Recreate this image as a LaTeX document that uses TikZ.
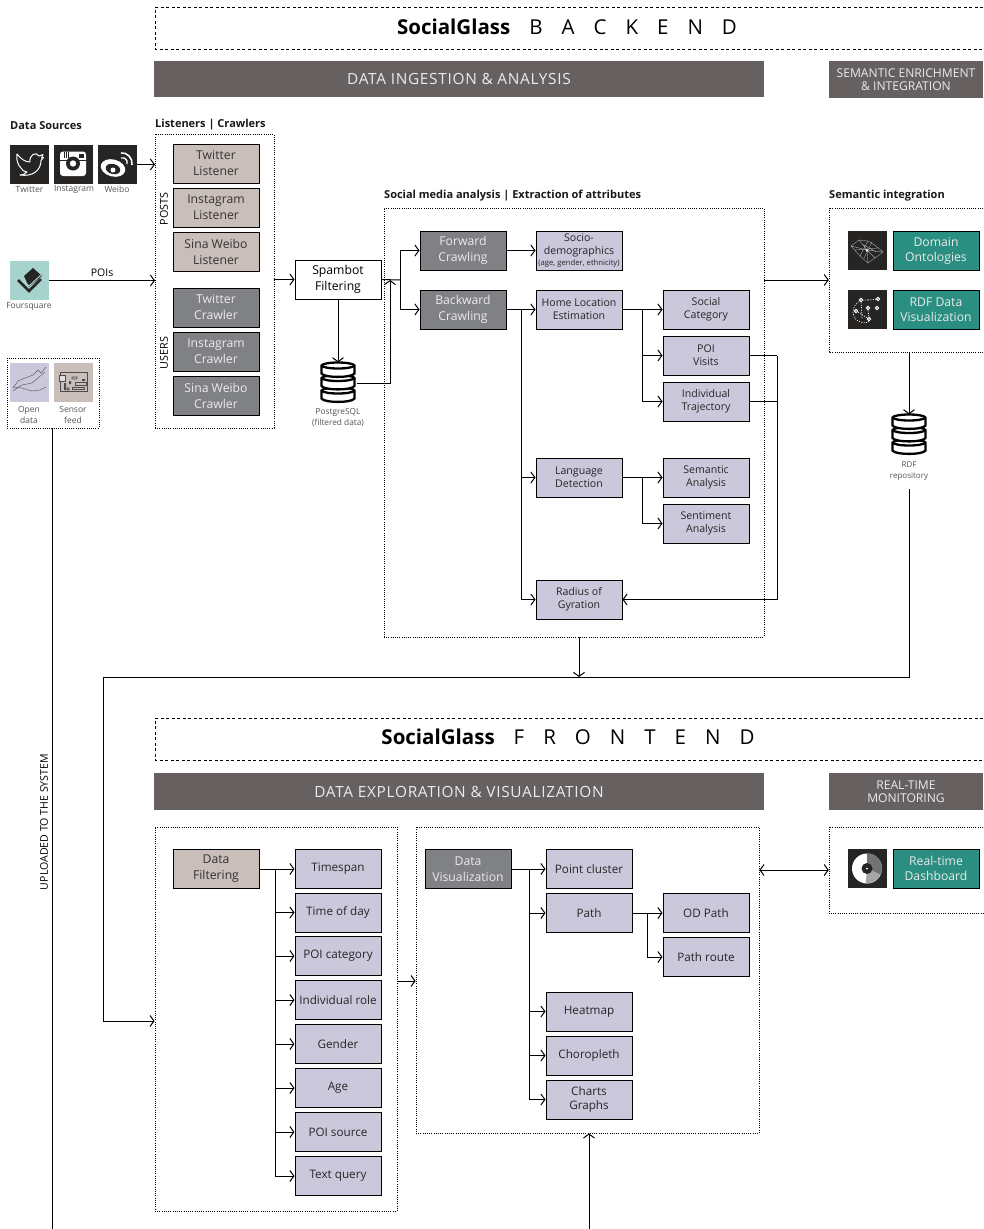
\documentclass[tikz,border=0pt]{standalone}
\usepackage{fontspec}
\setmainfont{Open Sans}
\usetikzlibrary{arrows.meta,calc,shapes.geometric}
\definecolor{brownbox}{HTML}{C9BEBA}
\definecolor{darkbox}{HTML}{808184}
\definecolor{lavbox}{HTML}{CBC8DC}
\definecolor{tealbox}{HTML}{2A8F80}
\definecolor{headbox}{HTML}{666060}
\definecolor{iconbg}{HTML}{272523}
\definecolor{labgray}{HTML}{555555}
\definecolor{fsqbg}{HTML}{A7D3CF}
\tikzset{
  x=1pt,y=-1pt,
  conn/.style={line width=1pt,draw=black,-{Straight Barb[length=4pt,width=11pt,line width=1pt]}},
  plainconn/.style={line width=1pt,draw=black},
  boxbase/.style={draw=black,line width=1pt,minimum width=86pt,minimum height=39pt,inner sep=0pt,align=center},
  brownnode/.style={boxbase,fill=brownbox,font=\fontsize{12.2}{16}\selectfont,text=black!80},
  darknode/.style={boxbase,fill=darkbox,font=\fontsize{12.2}{16}\selectfont,text=white!92!black},
  lavnode/.style={boxbase,fill=lavbox,font=\fontsize{10.6}{13}\selectfont,text=black!85},
  lavbig/.style={lavnode,font=\fontsize{11.7}{14}\selectfont},
  tealnode/.style={boxbase,fill=tealbox,font=\fontsize{12.2}{15}\selectfont,text=white!92!black},
  whitenode/.style={boxbase,fill=white,font=\fontsize{12.2}{16}\selectfont},
  headnode/.style={fill=headbox,inner sep=0pt,align=center,text=white!92!black,font=\fontsize{15.4}{17}\selectfont\addfontfeature{LetterSpace=4.5}},
  headsmall/.style={headnode,font=\fontsize{12.1}{13.5}\selectfont},
  dashbox/.style={draw=black,line width=.8pt,dash pattern=on 3pt off 2.5pt,inner sep=0pt},
  dotbox/.style={draw=black,line width=.8pt,dash pattern=on 1pt off 1.2pt,inner sep=0pt},
  dotline/.style={draw=black,line width=.8pt,dash pattern=on 1pt off 1.2pt},
  iconnode/.style={fill=iconbg,minimum width=39pt,minimum height=39pt,inner sep=0pt},
  caplabel/.style={font=\fontsize{8.5}{11}\selectfont,text=labgray,align=center,inner sep=0pt},
  sectlabel/.style={font=\fontsize{11}{12}\selectfont\bfseries,anchor=west,inner sep=0pt,text=black!90},
  titlelabel/.style={font=\fontsize{20.5}{22}\selectfont,inner sep=0pt},
  sidelabel/.style={font=\fontsize{10.8}{12}\selectfont,rotate=90,inner sep=0pt},
  dbnode/.style={minimum width=38pt,minimum height=39pt,inner sep=0pt},
  chartline/.style={draw=black!65,line width=.45pt},
  boardline/.style={draw=black!70,line width=.7pt},
}
\newcommand\dbdraw[1]{%
  \begin{scope}[shift={(#1.center)}]
    \foreach \yy in {12.5,0,-12.5}{
      \path[draw=black,fill=white,line width=2.3pt]
        (-16.5,\yy-4) -- (-16.5,\yy+4) .. controls (-14,\yy+8.5) and (14,\yy+8.5) .. (16.5,\yy+4)
        -- (16.5,\yy-4) .. controls (14,\yy-8) and (-14,\yy-8) .. (-16.5,\yy-4) -- cycle;
      \path[draw=black,line width=2.3pt]
        (-16.5,\yy-4) .. controls (-14,\yy) and (14,\yy) .. (16.5,\yy-4);
    }
  \end{scope}}
\begin{document}
\begin{tikzpicture}
\useasboundingbox (0,0) rectangle (983,1229);
\fill[white] (0,0) rectangle (983,1229);

% ---- backend headers
\node[minimum width=828pt,minimum height=42pt,inner sep=0pt] (titleA) at (569,28) {};
\draw[dashbox] (983,7) -- (155,7) -- (155,49) -- (983,49);
\node[titlelabel] (titleAtxt) at (567,27) {\textbf{SocialGlass}\hspace{19pt}B\hspace{19pt}A\hspace{19pt}C\hspace{19pt}K\hspace{19pt}E\hspace{19pt}N\hspace{19pt}D};
\node[headnode,minimum width=610pt,minimum height=36pt] (ingest) at (459,79) {DATA INGESTION \& ANALYSIS};
\node[headsmall,minimum width=154pt,minimum height=37pt] (semhead) at (906,79.5) {SEMANTIC ENRICHMENT\\\& INTEGRATION};

% ---- data sources
\node[sectlabel] (dstitle) at (10,125.5) {Data Sources};
\node[iconnode] (tw) at (29.5,164.5) {};
\node[iconnode] (ig) at (73.5,164.5) {};
\node[iconnode] (wb) at (117.5,164.5) {};
\node[caplabel] (twl) at (29.5,189) {Twitter};
\node[caplabel] (igl) at (74,189) {Instagram};
\node[caplabel] (wbl) at (117,189) {Weibo};
% twitter bird
\draw[white,line width=1pt,line join=round]
  (17,154) .. controls (21,159) and (25,162) .. (30,162)
  .. controls (29,155) and (36,151) .. (39,156) -- (43,154.5) -- (41.5,158) -- (43.5,157.5) -- (41,160.5)
  .. controls (41,170) and (33,177) .. (20,175)
  .. controls (23,175) and (25,174) .. (27,172) .. controls (24,172) and (22,170) .. (21,168)
  .. controls (18,165) and (16,160) .. (17,154) -- cycle;
% instagram
\fill[white,rounded corners=3pt] (60,151.5) rectangle (86,176);
\fill[iconbg] (60,159.5) rectangle (86,161);
\draw[iconbg,line width=.9pt] (64,151.5) -- (64,158) (66,151.5) -- (66,158) (68,151.5) -- (68,158);
\fill[iconbg] (79,154) rectangle (84,158);
\fill[iconbg] (73,163.5) circle[radius=7];
\fill[white] (73,163.5) circle[radius=3.2];
% weibo
\fill[white,rotate around={-15:(113,168)}] (113,168) ellipse[x radius=12.5,y radius=8.5];
\fill[iconbg,rotate around={-15:(113,169)}] (113,169) ellipse[x radius=7.5,y radius=5];
\fill[white] (113,170) circle[radius=2.5];
\draw[white,line width=1.6pt] (121,153) .. controls (127,152) and (133,158) .. (132,165);
\draw[white,line width=1.4pt] (121,158) .. controls (125,157) and (128,160) .. (127,164);
% foursquare
\node[minimum width=39pt,minimum height=39pt,inner sep=0pt,fill=fsqbg] (fs) at (29.5,280.5) {};
\fill[iconbg] (24,276) -- (33,268) -- (42,276) -- (29,287) -- cycle;
\draw[iconbg,line width=2.7pt] (18,280) -- (29,291) -- (41,279);
\draw[fsqbg,line width=1pt] (20,278) -- (29,286) -- (41,275);
\node[caplabel] (fsl) at (29,306) {Foursquare};

% open data / sensor
\node[minimum width=92pt,minimum height=70pt,inner sep=0pt] (odbox) at (53,393) {};
\draw[dotbox] (7,358) rectangle (99,428);
\node[minimum width=39pt,minimum height=39pt,inner sep=0pt,fill=lavbox] (od) at (29.5,382.5) {};
\node[minimum width=39pt,minimum height=39pt,inner sep=0pt,fill=brownbox] (sf) at (73.5,382.5) {};
\draw[chartline] (13,388) -- (18,381) -- (25,378) -- (33,375) -- (38,370) -- (41,373) -- (46,367);
\draw[chartline] (13,391) -- (22,385) -- (32,383) -- (38,378) -- (45,372);
\draw[chartline] (13,387) -- (22,388) -- (32,391) -- (40,390) -- (46,387);
\draw[boardline] (60,372) -- (87,372) -- (87,391) -- (60,391) -- cycle;
\fill[white!50!brownbox] (59,375) rectangle (65,381);
\draw[boardline] (59,375) rectangle (65,381);
\draw[boardline] (75,382) rectangle (86,385) (72,387) rectangle (84,389);
\fill[black!70] (64,383) rectangle (66,390) (69,381) rectangle (71,384) (82,379) rectangle (85,381);
\draw[boardline] (68,389) circle[radius=1.4] (72,377) rectangle (77,379);
\node[caplabel] (odl) at (29,415) {Open\\data};
\node[caplabel] (sfl) at (73,415) {Sensor\\feed};
\node[sidelabel,font=\fontsize{10.6}{12}\selectfont] (uploaded) at (44,822) {UPLOADED TO THE SYSTEM};
\coordinate (uplend) at (52,1229);
\draw[plainconn] (52,428) -- (uplend);

% ---- listeners
\node[sectlabel] (lctitle) at (155,125) {Listeners | Crawlers};
\node[minimum width=119pt,minimum height=294pt,inner sep=0pt,dotbox] (lc) at (214.5,281) {};
\node[brownnode] (l1) at (216,163.5) {Twitter\\Listener};
\node[brownnode] (l2) at (216,207.5) {Instagram\\Listener};
\node[brownnode] (l3) at (216,251.5) {Sina Weibo\\Listener};
\node[darknode] (c1) at (216,307.5) {Twitter\\Crawler};
\node[darknode] (c2) at (216,351.5) {Instagram\\Crawler};
\node[darknode] (c3) at (216,395.5) {Sina Weibo\\Crawler};
\node[sidelabel] (posts) at (164,209) {POSTS};
\node[sidelabel] (users) at (164,353) {USERS};
\draw[conn] (wb.east) -- (155,164.5);
\draw[conn] (fs.east) -- node[above=3pt,inner sep=0pt,font=\fontsize{10.5}{11}\selectfont] {POIs} (155,280.5);
\node[whitenode] (spam) at (338,279.5) {Spambot\\Filtering};
\draw[conn] (lc.east |- spam.west) -- (spam.west);
\node[dbnode] (pg) at (338,382) {};
\dbdraw{pg}
\draw[conn] (spam.south) -- (pg.north);
\node[caplabel,font=\fontsize{8.3}{11}\selectfont] (pgl) at (338,417.5) {PostgreSQL\\(filtered data)};

% ---- analysis
\node[sectlabel] (antitle) at (384,196) {Social media analysis | Extraction of attributes};
\node[minimum width=380pt,minimum height=429pt,inner sep=0pt,dotbox] (an) at (574,422.5) {};
\node[darknode] (fw) at (463,250.5) {Forward\\Crawling};
\node[darknode] (bw) at (463,309.5) {Backward\\Crawling};
\node[lavnode,align=center,font=\fontsize{10.6}{13}\selectfont] (socio) at (579,250.5) {Socio-\\demographics\\[-1.5pt]{\fontsize{7.7}{7}\selectfont (age, gender, ethnicity)}};
\node[lavnode] (home) at (579,309.5) {Home Location\\Estimation};
\node[lavnode] (soc) at (706,309.5) {Social\\Category};
\node[lavnode] (poi) at (706,355.5) {POI\\Visits};
\node[lavnode] (ind) at (706,401.5) {Individual\\Trajectory};
\node[lavnode] (lang) at (579,477.5) {Language\\Detection};
\node[lavnode] (sem) at (706,477.5) {Semantic\\Analysis};
\node[lavnode] (sent) at (706,523.5) {Sentiment\\Analysis};
\node[lavnode] (rad) at (579,599.5) {Radius of\\Gyration};

\coordinate (split) at (400,280);
\coordinate (dbup) at (390,383);
\draw[plainconn] (spam.east) -- (split);
\draw[conn] (split) |- (fw.west);
\draw[conn] (split) |- (bw.west);
\draw[conn] (pg.east |- dbup) -- (dbup) -- (390,280);
\draw[conn] (fw.east) -- (socio.west);
\draw[conn] (bw.east) -- (home.west);
\coordinate (bwv) at (521,309.5);
\draw[conn] (bwv) |- (lang.west);
\draw[conn] (bwv) |- (rad.west);
\draw[conn] (home.east) -- (soc.west);
\coordinate (hv) at (642,309.5);
\draw[conn] (hv) |- (poi.west);
\draw[conn] (hv) |- (ind.west);
\draw[conn] (lang.east) -- (sem.west);
\coordinate (lv) at (642,477.5);
\draw[conn] (lv) |- (sent.west);
\coordinate (rv) at (777,355.5);
\draw[plainconn] (poi.east) -- (rv);
\draw[plainconn] (ind.east) -- (rv |- ind.east);
\draw[conn] (rv) |- (rad.east);

% ---- semantic integration
\node[sectlabel] (semtitle) at (829,196) {Semantic integration};
\node[minimum width=154pt,minimum height=144pt,inner sep=0pt] (si) at (906,280) {};
\draw[dotline] (983,208) -- (829,208) -- (829,352) -- (983,352);
\node[iconnode] (ontoi) at (867.5,250.5) {};
\node[iconnode] (rdfi) at (867.5,309.5) {};
\node[tealnode] (onto) at (936,250.5) {Domain\\Ontologies};
\node[tealnode] (rdfv) at (936,309.5) {RDF Data\\Visualization};
\draw[white!65!black,line width=.4pt]
  (851,246) -- (859,240) -- (868,241) -- (876,246) -- (883,252) -- (875,258) -- (868,263) -- (860,256) -- cycle
  (859,240) -- (867,250) -- (875,258) (868,241) -- (860,256) (855,250) -- (878,248)
  (862,244) -- (876,252) (851,246) -- (867,250) -- (883,252) (864,258) -- (872,242) (868,263) -- (867,250);
\fill[white] (867,250.5) circle[radius=1.4];
\draw[white,line width=.7pt,dash pattern=on 1pt off 1.4pt] (868,300) .. controls (852,298) and (848,318) .. (860,322) .. controls (866,324) and (870,322) .. (869,319);
\draw[white,line width=.7pt,dash pattern=on 1pt off 1.4pt] (856,311) -- (869,319) (868,308) -- (869,319) (861,300) -- (862,318) (868,300) -- (878,299);
\foreach \px/\py in {861/300,878/299,877/308,868/308,856/311,869/319}{
  \draw[white,line width=1pt,fill=iconbg] (\px,\py) circle[radius=1.7];}
\draw[conn] (an.east |- 0,280) -- (si.west);
\node[dbnode] (rdfdb) at (909,434) {};
\dbdraw{rdfdb}
\draw[conn] (si.south -| rdfdb.north) -- (rdfdb.north);
\node[caplabel,font=\fontsize{8}{11.5}\selectfont] (rdfl) at (909,471) {RDF\\repository};

% ---- connectors to the front end
\coordinate (busR) at (909,677);
\coordinate (busL) at (103,677);
\coordinate (busIn) at (103,1021);
\draw[plainconn] (909,489) -- (busR) -- (busL) -- (busIn);
\draw[conn] (an.south -| 579,0) -- (579,677);

% ---- frontend headers
\node[minimum width=828pt,minimum height=42pt,inner sep=0pt] (titleB) at (569,739) {};
\draw[dashbox] (983,718) -- (155,718) -- (155,760) -- (983,760);
\node[titlelabel] (titleBtxt) at (568,737) {\textbf{SocialGlass}\hspace{19pt}F\hspace{19pt}R\hspace{19pt}O\hspace{19pt}N\hspace{19pt}T\hspace{19pt}E\hspace{19pt}N\hspace{19pt}D};
\node[headnode,minimum width=610pt,minimum height=37pt] (explore) at (459,791.5) {DATA EXPLORATION \& VISUALIZATION};
\node[headsmall,minimum width=154pt,minimum height=37pt] (rthead) at (906,791.5) {REAL-TIME\\MONITORING};

% ---- filtering
\node[minimum width=242pt,minimum height=384pt,inner sep=0pt,dotbox] (fb) at (276,1019) {};
\node[brownnode] (df) at (216,869) {Data\\Filtering};
\node[lavbig] (f1) at (338,869) {Timespan};
\node[lavbig] (f2) at (338,912.5) {Time of day};
\node[lavbig] (f3) at (338,956) {POI category};
\node[lavbig] (f4) at (338,1000) {Individual role};
\node[lavbig] (f5) at (338,1044) {Gender};
\node[lavbig] (f6) at (338,1088) {Age};
\node[lavbig] (f7) at (338,1132) {POI source};
\node[lavbig] (f8) at (338,1176) {Text query};
\draw[conn] (df.east) -- (f1.west);
\coordinate (fv) at (275,869);
\foreach \t in {f2,f3,f4,f5,f6,f7,f8}{\draw[conn] (fv) |- (\t.west);}
\draw[conn] (busIn) -- (fb.west |- busIn);

% ---- visualization
\node[minimum width=343pt,minimum height=306pt,inner sep=0pt,dotbox] (vb) at (587.5,980) {};
\node[darknode] (dv) at (468,869) {Data\\Visualization};
\node[lavbig] (v1) at (589,869) {Point cluster};
\node[lavbig] (v2) at (589,913) {Path};
\node[lavbig] (v3) at (589,1011.5) {Heatmap};
\node[lavbig] (v4) at (589,1055.5) {Choropleth};
\node[lavbig,font=\fontsize{11.7}{13.5}\selectfont] (v5) at (589,1099.5) {Charts\\Graphs};
\node[lavbig] (p1) at (706,913) {OD Path};
\node[lavbig] (p2) at (706,957) {Path route};
\draw[conn] (dv.east) -- (v1.west);
\coordinate (vv) at (529,869);
\foreach \t in {v2,v3,v4,v5}{\draw[conn] (vv) |- (\t.west);}
\draw[conn] (v2.east) -- (p1.west);
\coordinate (pv) at (647,913);
\draw[conn] (pv) |- (p2.west);
\draw[conn] (fb.east |- 0,981) -- (vb.west |- 0,981);
\coordinate (upin) at (589,1229);
\draw[conn] (upin) -- (vb.south -| upin);

% ---- real-time
\node[minimum width=154pt,minimum height=86pt,inner sep=0pt] (rt) at (906,870) {};
\draw[dotline] (983,827) -- (829,827) -- (829,913) -- (983,913);
\node[iconnode] (rti) at (867.5,868.5) {};
\node[tealnode] (rtd) at (936,868.5) {Real-time\\Dashboard};
\fill[white] (867,868.5) circle[radius=15];
\fill[black!55] (867,868.5) -- (867,853.5) arc[start angle=-90,end angle=25,radius=15] -- cycle;
\fill[black!35] (867,868.5) -- (880.6,874.8) arc[start angle=25,end angle=95,radius=15] -- cycle;
\fill[iconbg] (867,868.5) circle[radius=5.5];
\fill[white] (867,868.5) circle[radius=1];
\draw[conn,{Straight Barb[length=4pt,width=11pt,line width=1pt]}-{Straight Barb[length=4pt,width=11pt,line width=1pt]}] (vb.east |- rt.west) -- (rt.west);
\end{tikzpicture}
\end{document}
